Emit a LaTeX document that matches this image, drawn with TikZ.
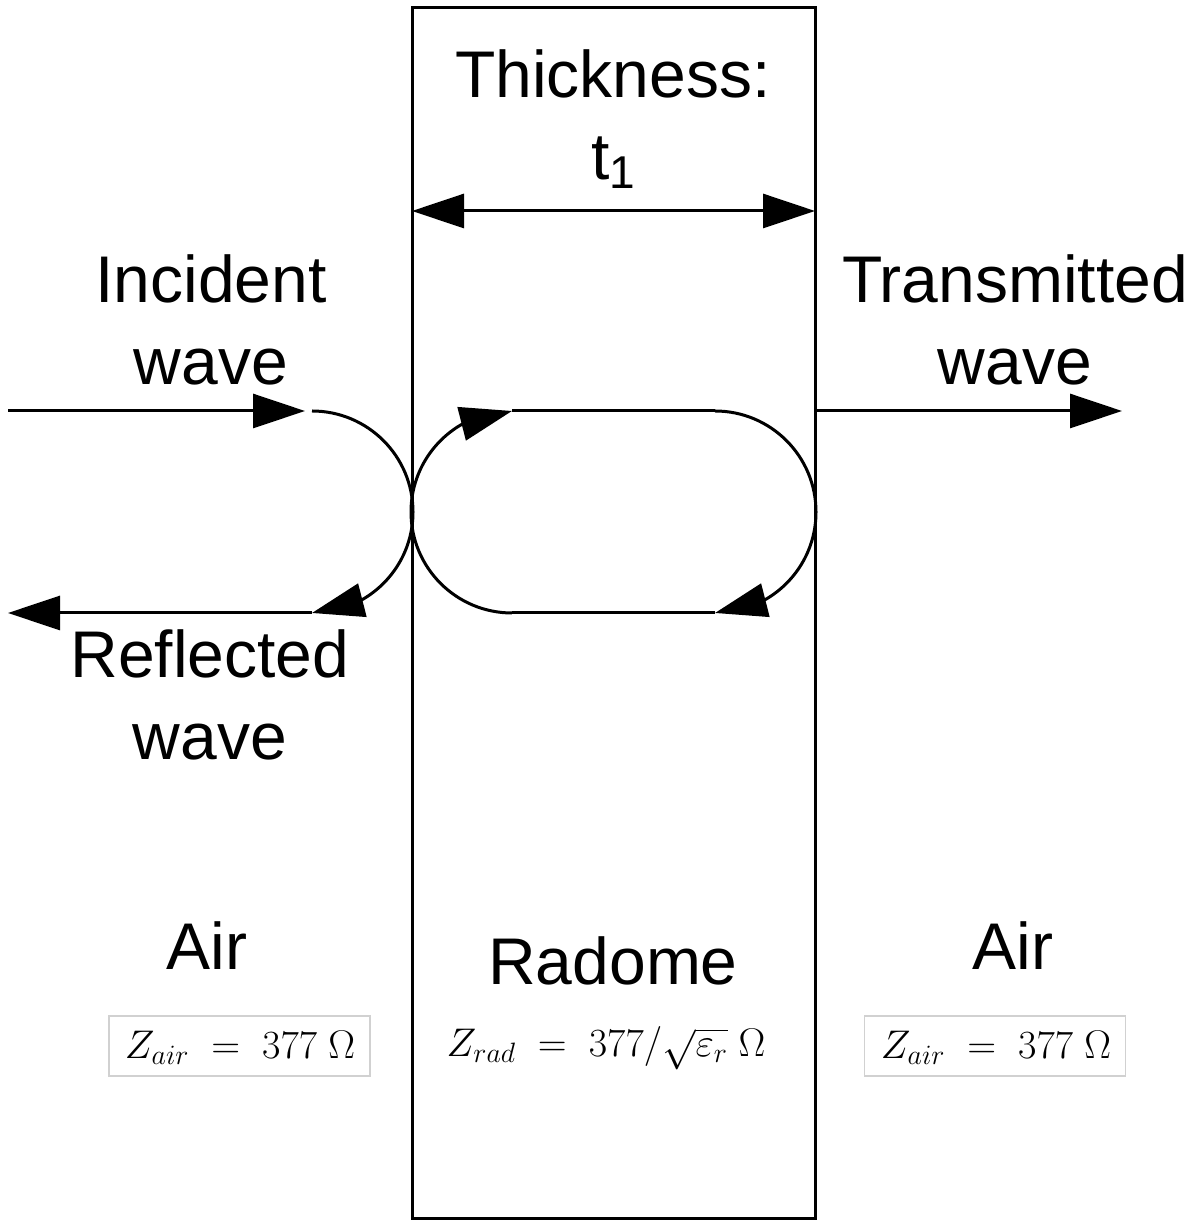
\RequirePackage{fix-cm}
\documentclass[tikz,border=0pt]{standalone}
\usepackage{fontspec}
\setmainfont{Liberation Sans}
\usetikzlibrary{arrows.meta,bending}
\begin{document}
\begin{tikzpicture}[x=1pt,y=1pt,
  wire/.style={line width=3pt},
  tip/.style={-{Triangle[length=52pt,width=34pt]}},
  label/.style={font=\fontsize{66}{82}\selectfont, inner sep=0pt, align=center},
  zbox/.style={draw=black!18, line width=1.2pt, minimum width=261pt, minimum height=60pt, inner sep=0pt},
  ztext/.style={font=\fontsize{40}{44}\selectfont, inner sep=0pt}]
\useasboundingbox (0,0) rectangle (1200,1228);
% radome slab
\node[draw, line width=3pt, minimum width=403pt, minimum height=1211pt, inner sep=0pt] (slab) at (613.5,614.5) {};
% coordinates
\coordinate (dimL) at (412,1017);
\coordinate (dimR) at (815,1017);
\coordinate (incS) at (8,817);
\coordinate (incE) at (305,817);
\coordinate (lt) at (312,817);
\coordinate (lb) at (312,615);
\coordinate (refE) at (8,615);
\coordinate (rt1) at (512,817);
\coordinate (rb1) at (512,615);
\coordinate (rt2) at (715,817);
\coordinate (rb2) at (715,615);
\coordinate (trS) at (815,817);
\coordinate (trE) at (1122,817);
% thickness dimension
\draw[wire, {Triangle[length=52pt,width=34pt]}-{Triangle[length=52pt,width=34pt]}] (dimL) -- (dimR);
% incident
\draw[wire, tip] (incS) -- (incE);
\draw[wire, tip] (lt) arc[start angle=90, end angle=-90, radius=101];
\draw[wire, tip] (lb) -- (refE);
% inside loop
\draw[wire, tip] (rb1) arc[start angle=270, end angle=90, radius=101];
\draw[wire] (rt1) -- (rt2);
\draw[wire, tip] (rt2) arc[start angle=90, end angle=-90, radius=101];
\draw[wire] (rb2) -- (rb1);
% transmitted
\draw[wire, tip] (trS) -- (trE);
% labels
\node[label, anchor=base] (thick) at (613,1048) {Thickness:\\t\raisebox{-9pt}{\fontsize{46}{46}\selectfont 1}};
\node[label, anchor=base] (inc) at (211,843) {Incident\\wave};
\node[label, anchor=base] (trans) at (1015,843) {Transmitted\\wave};
\node[label, anchor=base] (refl) at (210,468) {Reflected\\wave};
\node[label, anchor=base] (airL) at (207,258) {Air};
\node[label, anchor=base] (rad) at (613,243) {Radome};
\node[label, anchor=base] (airR) at (1013,258) {Air};
% impedance formulas
\node[zbox] (zL) at (239.5,182) {};
\node[ztext] (zLt) at (240,180) {$Z_{air} \;=\; 377\;\Omega$};
\node[ztext] (zM) at (606,180) {$Z_{rad} \;=\; 377/\sqrt{\varepsilon_r}\;\Omega$};
\node[zbox] (zR) at (995,182) {};
\node[ztext] (zRt) at (996,180) {$Z_{air} \;=\; 377\;\Omega$};
\end{tikzpicture}
\end{document}
